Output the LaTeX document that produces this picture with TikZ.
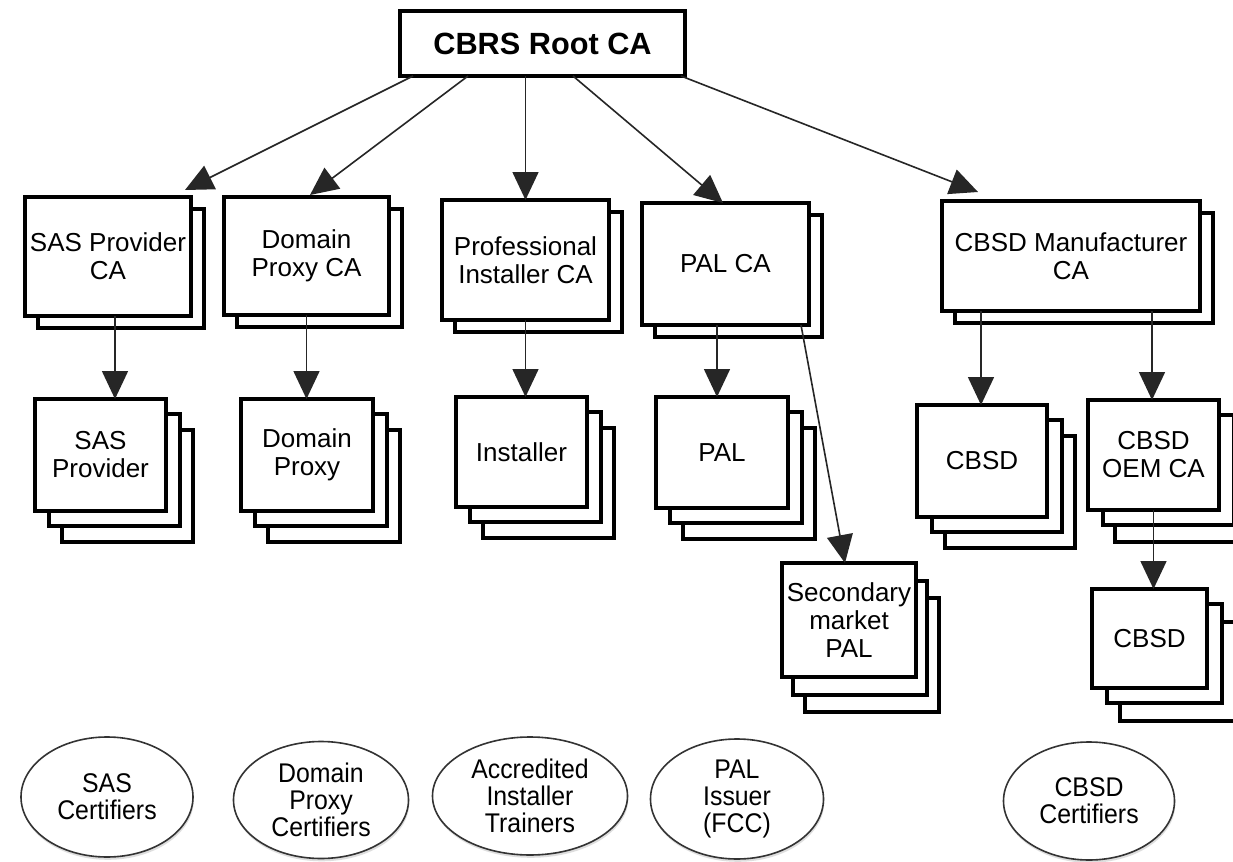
\documentclass[tikz,border=0pt]{standalone}
\usepackage{fontspec}
\setmainfont{Liberation Sans}
\newfontfamily\ellfont[FakeStretch=0.92]{Liberation Sans}
\usetikzlibrary{arrows.meta,calc,shapes.geometric,backgrounds,shadows}
\newcommand{\stacklayer}[3]{\draw[boxbase] ($(#1.north west)+(#2,#3)$) rectangle ($(#1.south east)+(#2,#3)$);}
\begin{document}
\begin{tikzpicture}[x=0.5pt,y=-0.5pt,
  boxbase/.style={draw=black, line width=1.6pt, fill=white},
  frontbox/.style={boxbase, inner sep=0pt, outer sep=0pt, align=center, font=\fontsize{13}{14}\selectfont},
  rootbox/.style={boxbase, inner sep=0pt, outer sep=0pt, font=\bfseries\fontsize{15.35}{17}\selectfont},
  certell/.style={ellipse, draw=black!80, line width=0.8pt, fill=white, inner sep=0pt, align=center,
    font=\ellfont\fontsize{13.5}{13.5}\selectfont,
    drop shadow={shadow xshift=0.4pt, shadow yshift=-1.4pt, fill=black!25}},
  arr/.style={draw=black!85, line width=0.8pt, -{Triangle[length=14pt,width=13pt]}},
]
\useasboundingbox (0,0) rectangle (1233,862);

% root
\node[rootbox, minimum width=142.5pt, minimum height=32.5pt] (root) at (542.5,43.5) {CBRS Root CA};

% row 1
\node[frontbox, minimum width=83pt, minimum height=59.5pt] (sasca) at (108,256.5) {SAS Provider\\CA};
\node[frontbox, minimum width=82.5pt, minimum height=59pt] (dpca) at (306.5,256) {Domain\\Proxy CA};
\node[frontbox, minimum width=83.5pt, minimum height=60pt] (pica) at (525.5,260) {Professional\\Installer CA};
\node[frontbox, minimum width=83.5pt, minimum height=61pt] (palca) at (725.5,264) {PAL CA};
\node[frontbox, minimum width=129pt, minimum height=55pt] (mca) at (1071,256) {CBSD Manufacturer\\CA};

% row 2
\node[frontbox, minimum width=65.5pt, minimum height=56pt] (sasp) at (100.5,455) {SAS\\Provider};
\node[frontbox, minimum width=66pt, minimum height=56pt] (dp) at (307,455) {Domain\\Proxy};
\node[frontbox, minimum width=65.5pt, minimum height=55pt] (inst) at (521.5,452) {Installer};
\node[frontbox, minimum width=66pt, minimum height=55.5pt] (pal) at (722,452.5) {PAL};
\node[frontbox, minimum width=65pt, minimum height=56pt] (cbsda) at (982,461) {CBSD};
\node[frontbox, minimum width=65.5pt, minimum height=55pt] (oem) at (1153.5,455) {CBSD\\OEM CA};
\node[frontbox, minimum width=67pt, minimum height=57pt] (sec) at (849,620) {Secondary\\market\\PAL};
\node[frontbox, minimum width=57.5pt, minimum height=49.5pt] (cbsdb) at (1149.5,638.5) {CBSD};

% ellipses
\node[certell, minimum width=86pt, minimum height=60pt] (e1) at (107,797) {SAS\\Certifiers};
\node[certell, minimum width=87.5pt, minimum height=58.5pt] (e2) at (321,800) {Domain\\Proxy\\Certifiers};
\node[certell, minimum width=97.5pt, minimum height=59pt] (e3) at (530,796) {Accredited\\Installer\\Trainers};
\node[certell, minimum width=86.5pt, minimum height=60pt] (e4) at (737,799) {PAL\\Issuer\\(FCC)};
\node[certell, minimum width=85.5pt, minimum height=59pt] (e5) at (1089,801) {CBSD\\Certifiers};

% stacked layers behind
\begin{scope}[on background layer]
  \fill[white] (0,0) rectangle (1233,862);
  % third layers
  \stacklayer{sasp}{27}{31}
  \stacklayer{dp}{27}{31}
  \stacklayer{inst}{27}{31}
  \stacklayer{pal}{27}{31}
  \stacklayer{cbsda}{28}{31}
  \stacklayer{oem}{27}{32}
  \stacklayer{sec}{23}{35}
  \stacklayer{cbsdb}{28}{33}
  % second layers
  \stacklayer{sasca}{13}{12}
  \stacklayer{dpca}{13}{12}
  \stacklayer{pica}{13}{12}
  \stacklayer{palca}{13}{12}
  \stacklayer{mca}{13}{12}
  \stacklayer{sasp}{14}{15}
  \stacklayer{dp}{14}{15}
  \stacklayer{inst}{14}{15}
  \stacklayer{pal}{14}{15}
  \stacklayer{cbsda}{15}{15}
  \stacklayer{oem}{15}{15}
  \stacklayer{sec}{11}{18}
  \stacklayer{cbsdb}{15}{15}
\end{scope}

% arrows from root
\draw[arr] ($(root.south west)+(13,0)$) -- ($(sasca.north east)+(-6,-7)$);
\draw[arr] ($(root.south west)+(68,0)$) -- ($(dpca.north)+(3.5,-2)$);
\draw[arr] (pica.north |- root.south) -- (pica.north);
\draw[arr] ($(root.south west)+(173,0)$) -- ($(palca.north)+(-2.5,0)$);
\draw[arr] ($(root.south east)+(-4,0)$) -- ($(mca.north west)+(36,-9)$);

% arrows to row 2
\coordinate (s1) at ($(sasca.south west)+(90,0)$);
\draw[arr] (s1) -- (s1 |- sasp.north);
\draw[arr] (dpca.south) -- (dpca.south |- dp.north);
\draw[arr] (pica.south) -- (pica.south |- inst.north);
\coordinate (s4) at ($(palca.south west)+(75,0)$);
\draw[arr] (s4) -- (s4 |- pal.north);
\coordinate (s5) at ($(mca.south west)+(39,0)$);
\draw[arr] (s5) -- (s5 |- cbsda.north);
\coordinate (s6) at ($(mca.south west)+(210,0)$);
\draw[arr] (s6) -- (s6 |- oem.north);
\draw[arr] ($(palca.south east)+(-8,0)$) -- ($(sec.north)+(-4,0)$);
\coordinate (s7) at (oem.south);
\draw[arr] (s7) -- (s7 |- cbsdb.north);
\end{tikzpicture}
\end{document}
